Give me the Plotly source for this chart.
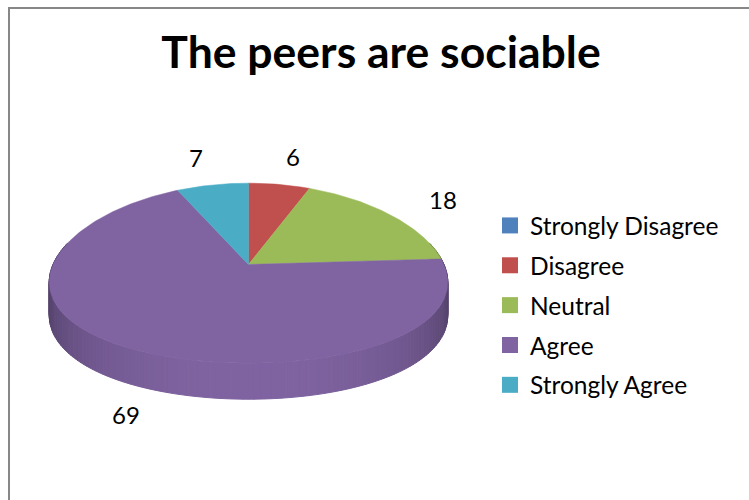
import math
import plotly.graph_objects as go

# Survey responses
categories = ["Strongly Disagree", "Disagree", "Neutral", "Agree", "Strongly Agree"]
values = [0, 6, 18, 69, 7]
colors = ["#4F81BD", "#C0504D", "#9BBB59", "#8064A2", "#4BACC6"]
title_text = "The peers are sociable"

W, H = 749, 500

# Tilted-disc geometry (drawing units = pixels of the canvas)
CX, CY = 248.5, 264.5
RX, RY = 195.5, 89.2
KX, KY = 0.194, 0.0966      # perspective shrink toward the back
DEPTH = 32.5
LABEL_RX, LABEL_RY = 240, 110
FONT = "Lato"


def project(u, v, z=0.0):
    """Map a point of the unit disc (u right, v back) and depth z (0 top, 1 bottom)."""
    sx = 1.0 / (1.0 + KX * v)
    sy = 1.0 / (1.0 + KY * v)
    return CX + RX * u * sx, CY - RY * v * sy + DEPTH * z * sy


def rim(theta, z=0.0):
    return project(math.sin(theta), math.cos(theta), z)


def shade(hex_color, f):
    h = hex_color.lstrip("#")
    r, g, b = (int(h[i:i + 2], 16) for i in (0, 2, 4))
    return "rgb({},{},{})".format(int(r * f), int(g * f), int(b * f))


total = float(sum(values))
bounds = []
acc = 0.0
for val in values:
    a0 = 2 * math.pi * acc / total
    acc += val
    a1 = 2 * math.pi * acc / total
    bounds.append((a0, a1))


def slice_at(theta):
    t = theta % (2 * math.pi)
    for i, (a0, a1) in enumerate(bounds):
        if a0 <= t < a1:
            return i
    return len(bounds) - 1


fig = go.Figure()

# --- side wall, built from narrow strips so it can be shaded like a cylinder
lo, hi = math.pi / 2 - 0.25, 3 * math.pi / 2 + 0.25
n = 160
edges = [lo + (hi - lo) * k / n for k in range(n + 1)]
for a0, a1 in bounds:
    for a in (a0, a1):
        if lo < a < hi:
            edges.append(a)
edges = sorted(set(edges))
strips = []
for ta, tb in zip(edges[:-1], edges[1:]):
    tm = 0.5 * (ta + tb)
    strips.append((math.cos(tm), ta, tb, slice_at(tm)))
strips.sort(key=lambda s: -s[0])
for v_mid, ta, tb, idx in strips:
    if values[idx] <= 0:
        continue
    f = 0.55 + 0.45 * max(0.0, -v_mid)
    c = shade(colors[idx], f)
    pts_top = [rim(ta + (tb - ta) * j / 2) for j in range(3)]
    pts_bot = [rim(tb - (tb - ta) * j / 2, 1.0) for j in range(3)]
    pts = pts_top + pts_bot + [pts_top[0]]
    fig.add_trace(go.Scatter(
        x=[p[0] for p in pts], y=[p[1] for p in pts],
        mode="lines", fill="toself", fillcolor=c,
        line=dict(color=c, width=1), hoverinfo="skip", showlegend=False))

# --- top face slices
for i, (a0, a1) in enumerate(bounds):
    if values[i] <= 0:
        continue
    steps = max(2, int(math.degrees(a1 - a0)))
    arc = [rim(a0 + (a1 - a0) * j / steps) for j in range(steps + 1)]
    pts = [(CX, CY)] + arc + [(CX, CY)]
    fig.add_trace(go.Scatter(
        x=[p[0] for p in pts], y=[p[1] for p in pts],
        mode="lines", fill="toself", fillcolor=colors[i],
        line=dict(color=colors[i], width=0.5),
        hoverinfo="text", text=f"{categories[i]}: {values[i]}",
        showlegend=False))

# --- data labels on an ellipse outside the disc
annotations = []
for i, (a0, a1) in enumerate(bounds):
    if values[i] <= 0:
        continue
    tm = 0.5 * (a0 + a1)
    lx = CX + LABEL_RX * math.sin(tm)
    ly = CY - LABEL_RY * math.cos(tm)
    if math.cos(tm) < 0:
        ly += DEPTH * 1.7
    annotations.append(dict(
        x=lx, y=ly, xref="x", yref="y", text=str(values[i]),
        showarrow=False, xanchor="center", yanchor="middle",
        font=dict(family=FONT, size=24, color="black")))

# --- legend entries
for cat, col in zip(categories, colors):
    fig.add_trace(go.Scatter(
        x=[None], y=[None], mode="markers", name=cat, legendgroup=cat,
        marker=dict(symbol="square", size=16, color=col)))

fig.update_layout(
    width=W, height=H,
    margin=dict(l=0, r=0, t=0, b=0),
    paper_bgcolor="white", plot_bgcolor="white",
    xaxis=dict(range=[0, W], visible=False, fixedrange=True),
    yaxis=dict(range=[H, 0], visible=False, fixedrange=True),
    title=dict(text="<b>" + title_text + "</b>", x=381 / W, xanchor="center",
               y=1 - 52 / H, yanchor="middle",
               font=dict(family=FONT, size=44.5, color="black")),
    legend=dict(x=490 / W, y=1 - 203 / H, xanchor="left", yanchor="top",
                font=dict(family=FONT, size=24.5, color="black"),
                tracegroupgap=5, itemsizing="trace",
                bgcolor="rgba(0,0,0,0)"),
    annotations=annotations,
    shapes=[dict(type="rect", xref="paper", yref="paper",
                 x0=9 / W, y0=1 - 8 / H, x1=1.05, y1=-0.05,
                 line=dict(color="#878787", width=2), fillcolor="rgba(0,0,0,0)")],
    showlegend=True,
)

fig.write_html("out.html")
